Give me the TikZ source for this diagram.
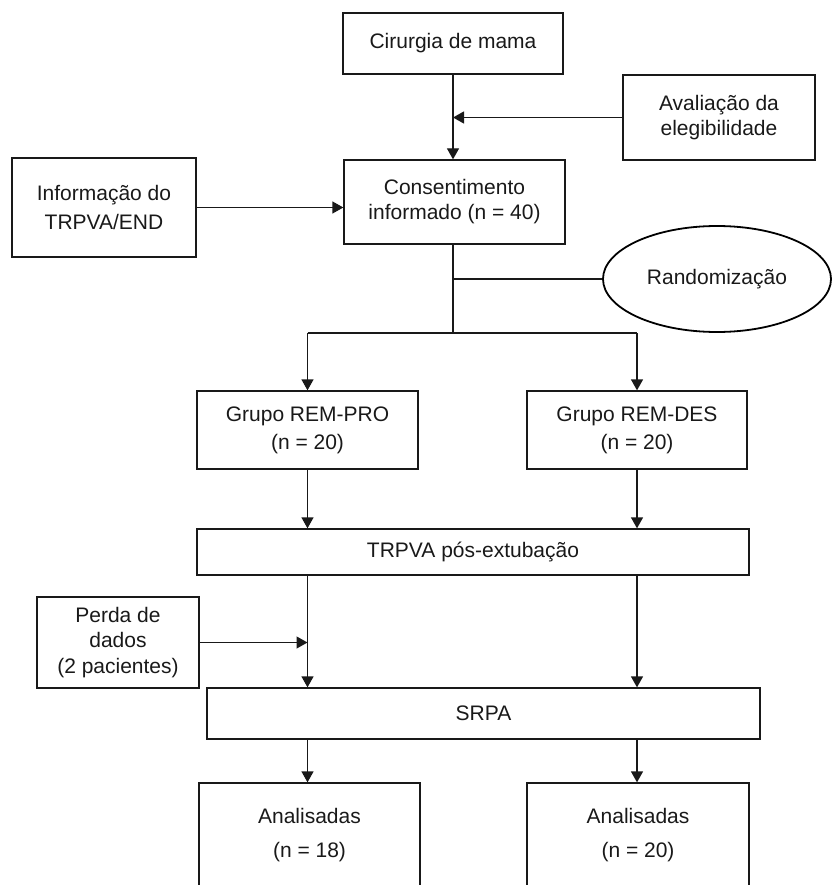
\documentclass[tikz,border=0pt]{standalone}
\usepackage{fontspec}
\setmainfont{Liberation Sans}
\usetikzlibrary{arrows.meta,shapes.geometric}
\begin{document}
\begin{tikzpicture}[x=1pt,y=-1pt,
  box/.style={draw=black!90, line width=1.3pt, align=center, inner sep=0pt, text=black!90,
              font=\fontsize{21}{25}\selectfont},
  oval/.style={draw=black, ellipse, line width=1.8pt, inner sep=0pt, text=black!90,
              font=\fontsize{21}{25}\selectfont},
  ln/.style={line width=1.3pt, draw=black!90},
  arr/.style={ln, -{Triangle[length=11pt,width=12pt]}}]
\useasboundingbox (0,0) rectangle (833,885);
\clip (0,0) rectangle (833,885);

\node[box, minimum width=220pt, minimum height=61pt] (cir) at (453,43.5) {Cirurgia de mama};
\node[box, minimum width=192pt, minimum height=85pt] (ava) at (719,117.5) {Avaliação da\\elegibilidade};
\node[box, minimum width=221pt, minimum height=84pt] (con) at (454.5,202) {Consentimento\\informado (n = 40)};
\node[box, minimum width=184pt, minimum height=99pt, font=\fontsize{21}{29}\selectfont] (inf) at (104,207.5) {Informação do\\TRPVA/END};
\node[oval, minimum width=228pt, minimum height=106pt] (ran) at (717,279) {Randomização};
\node[box, minimum width=221pt, minimum height=78pt, font=\fontsize{21}{28}\selectfont] (pro) at (307.5,430) {Grupo REM-PRO\\(n = 20)};
\node[box, minimum width=220pt, minimum height=78pt, font=\fontsize{21}{28}\selectfont] (des) at (637,430) {Grupo REM-DES\\(n = 20)};
\node[box, minimum width=552pt, minimum height=46pt] (trp) at (473,552) {TRPVA pós-extubação};
\node[box, minimum width=162pt, minimum height=91pt, font=\fontsize{21}{25.5}\selectfont] (per) at (118,642.5) {Perda de\\dados\\(2 pacientes)};
\node[box, minimum width=553pt, minimum height=51pt] (srp) at (483.5,713.5) {SRPA};
\node[box, minimum width=221pt, minimum height=105pt, font=\fontsize{21}{34}\selectfont] (an1) at (309.5,835.5) {Analisadas\\(n = 18)};
\node[box, minimum width=222pt, minimum height=105pt, font=\fontsize{21}{34}\selectfont] (an2) at (638,835.5) {Analisadas\\(n = 20)};

% top trunk
\draw[arr] (cir.south) -- (cir.south |- con.north);
\draw[arr] (ava.west) -- (ava.west -| cir.south);
\draw[arr] (inf.east) -- (inf.east -| con.west);

% randomisation split
\coordinate (split) at (453,333);
\draw[ln] (cir.south |- con.south) -- (split);
\draw[ln] (cir.south |- ran.west) -- (ran.west);
\draw[ln] (pro.north |- split) -- (des.north |- split);
\draw[arr] (pro.north |- split) -- (pro.north);
\draw[arr] (des.north |- split) -- (des.north);

% groups to TRPVA
\draw[arr] (pro.south) -- (pro.south |- trp.north);
\draw[arr] (des.south) -- (des.south |- trp.north);

% TRPVA to SRPA
\draw[arr] (pro.south |- trp.south) -- (pro.south |- srp.north);
\draw[arr] (des.south |- trp.south) -- (des.south |- srp.north);
\draw[arr] (per.east) -- (per.east -| pro.south);

% SRPA to analysed
\draw[arr] (pro.south |- srp.south) -- (pro.south |- an1.north);
\draw[arr] (des.south |- srp.south) -- (des.south |- an2.north);
\end{tikzpicture}
\end{document}
